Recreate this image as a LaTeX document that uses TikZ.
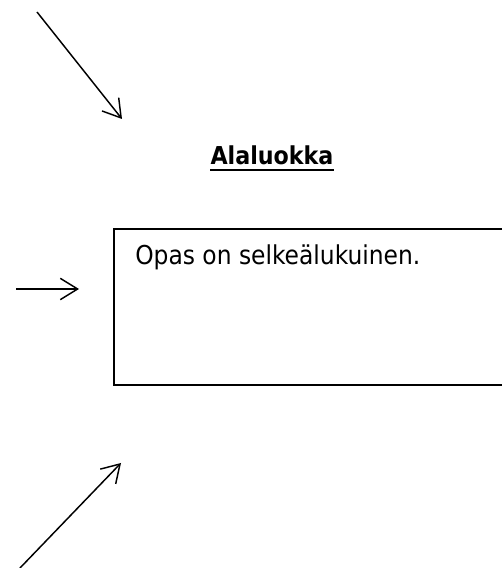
\documentclass[tikz,border=0pt]{standalone}
\usepackage{fontspec}
\setmainfont{DejaVu Sans Condensed}
\usetikzlibrary{arrows.meta}

\begin{document}
\begin{tikzpicture}
		[x=0.75pt,y=0.75pt,every node/.style={inner sep=0pt},
		 arr/.style={-{Straight Barb[length=13pt,width=16pt,line width=1.1pt]},line width=1.1pt}] % one unit is one pixel of the page, y counted from the bottom
		
		\useasboundingbox (0,0) rectangle (502,568);
		
		\coordinate (s1) at (37,556);
		\coordinate (e1) at (122,449);
		\coordinate (s2) at (16,279);
		\coordinate (e2) at (79,279);
		\coordinate (s3) at (20,0);
		\coordinate (e3) at (121,105);
		
		\node [anchor=base] (title) at (272,403) {\fontsize{18.5pt}{22pt}\selectfont\bfseries Alaluokka};
		\node [draw,rectangle,line width=1.6pt,anchor=north west,minimum width=315pt,minimum height=117pt] (box) at (113,340) {};
		\node [anchor=base west] (txt) at (135,303) {\fontsize{19.5pt}{23pt}\selectfont Opas on selkeälukuinen.};
		
		\draw [line width=1.5pt] ([yshift=-3.75pt]title.base west) -- ([yshift=-3.75pt]title.base east);
		\draw [arr] (s1) -- (e1);
		\draw [arr] (s2) -- (e2);
		\draw [arr] (s3) -- (e3);
		
	\end{tikzpicture}
\end{document}
